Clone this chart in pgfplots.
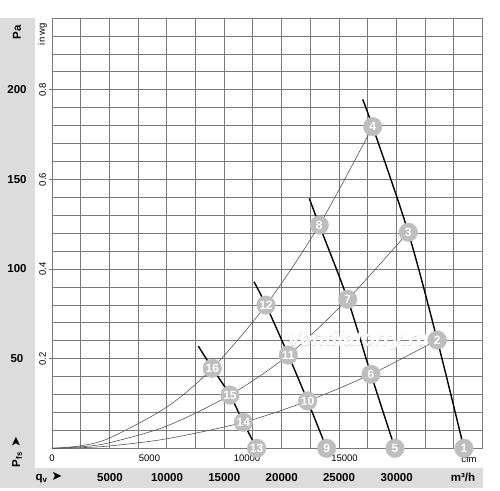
\documentclass[border=0pt]{standalone}
\usepackage{fontspec}
\setmainfont{Liberation Sans}
\newfontfamily\symfont{DejaVu Sans}
\usepackage{pgfplots}
\pgfplotsset{compat=1.18}

\definecolor{band}{HTML}{DCDCDC}
\definecolor{gridc}{HTML}{7A7A7A}
\definecolor{circ}{HTML}{BEBEBE}
\definecolor{sysc}{HTML}{555555}

\begin{document}
\begin{tikzpicture}
% page in reference pixels: x right, y down, axis corner at (52,448.3)
\begin{scope}[x=1pt,y=-1pt,shift={(-52pt,448.3pt)}]
  \useasboundingbox (0,0) rectangle (500,490);
  \fill[band] (0,18) rectangle (35,487.5);
  \fill[band] (0,467.5) rectangle (482.7,487.5);
  % cfm scale
  \begin{scope}[font=\fontsize{9.5}{10}\selectfont]
    \node at (52,457.8) {0};
    \node at (149.5,457.8) {5000};
    \node at (247,457.8) {10000};
    \node at (344.5,457.8) {15000};
    \node at (469,459) {cfm};
  \end{scope}
\end{scope}

\begin{axis}[
    scale only axis,
    width=430.3pt, height=430.3pt,
    xmin=0, xmax=37500, ymin=0, ymax=240,
    xtick={0,2500,...,37500},
    ytick={0,10,...,240},
    scaled x ticks=false, scaled y ticks=false,
    xticklabel=\empty, yticklabel=\empty,
    major tick length=0pt,
    grid=major,
    major grid style={draw=gridc, line width=0.7pt},
    axis line style={draw=gridc, line width=0.7pt},
    clip=false,
  ]
  % system curves
  \addplot[sysc, line width=0.6pt, smooth] coordinates {
    (0,0) (2500,1.4) (5000,5.7) (10000,23) (13970,44.6) (18648,79.9) (23293,124.5) (27945,179.4)};
  \addplot[sysc, line width=0.6pt, smooth] coordinates {
    (0,0) (2500,0.8) (5000,3.1) (10000,12.4) (15511,29.7) (20593,52) (25766,83.1) (31047,120.5)};
  \addplot[sysc, line width=0.6pt, smooth] coordinates {
    (0,0) (2500,0.35) (5000,1.3) (10000,5.3) (16671,14.5) (22279,26.4) (27797,41.3) (33576,60.4)};
  % fan curves
  \addplot[black, line width=1.4pt, smooth] coordinates {
    (27073,194.6) (27945,179.4) (31047,120.5) (33576,60.4) (35901,0)};
  \addplot[black, line width=1.4pt, smooth] coordinates {
    (22421,139.4) (23293,124.5) (25766,83.1) (27797,41.3) (29890,0)};
  \addplot[black, line width=1.4pt, smooth] coordinates {
    (17602,92.9) (18648,79.9) (20593,52.0) (22279,26.4) (23934,0)};
  \addplot[black, line width=1.4pt, smooth] coordinates {
    (12751,57.0) (13970,44.6) (15511,29.7) (16671,14.5) (17834,0)};
  % watermark
  \node[font=\itshape\bfseries\fontsize{21}{21}\selectfont, text=black!15]
    at (axis cs:26680,59.6) {Ventilatorry.ru};
  \node[font=\itshape\bfseries\fontsize{21}{21}\selectfont, text=white]
    at (axis cs:26665,60.2) {Ventilatorry.ru};
  % operating points
  \addplot[color=circ, only marks, mark=*, mark size=9.3pt,
      mark options={fill=circ, draw=circ},
      point meta=explicit symbolic,
      nodes near coords,
      every node near coord/.append style={anchor=center, text=white,
        font=\bfseries\fontsize{12}{12}\selectfont}]
    table[meta=lab] {
      x y lab
      35901 0 1
      33576 60.4 2
      31047 120.5 3
      27945 179.4 4
      29890 0 5
      27797 41.3 6
      25766 83.1 7
      23293 124.5 8
      23934 0 9
      22279 26.4 10
      20593 52.0 11
      18648 79.9 12
      17834 0 13
      16671 14.5 14
      15511 29.7 15
      13970 44.6 16
    };
\end{axis}

\begin{scope}[x=1pt,y=-1pt,shift={(-52pt,448.3pt)}]
  % Pa scale
  \begin{scope}[font=\bfseries\fontsize{11.5}{12}\selectfont]
    \node[rotate=90] at (17,32) {Pa};
    \node at (17,89.7) {200};
    \node at (17,179.3) {150};
    \node at (17,268.8) {100};
    \node at (17,358.5) {50};
    \node[rotate=90] at (17,452) {P\textsubscript{fs}\,\,{\symfont\fontsize{13}{13}\selectfont ➤}};
    \node at (49,478) {q\textsubscript{v}\,\,{\symfont\fontsize{13}{13}\selectfont ➤}};
    \node at (110,477.7) {5000};
    \node at (167,477.7) {10000};
    \node at (224.3,477.7) {15000};
    \node at (281.7,477.7) {20000};
    \node at (339,477.7) {25000};
    \node at (396.7,477.7) {30000};
    \node at (463,477.7) {m³/h};
  \end{scope}
  % in wg scale
  \begin{scope}[font=\fontsize{9.5}{10}\selectfont]
    \node[rotate=90] at (42.5,34) {in wg};
    \node[rotate=90] at (42.5,89.7) {0.8};
    \node[rotate=90] at (42.5,179.5) {0.6};
    \node[rotate=90] at (42.5,269) {0.4};
    \node[rotate=90] at (42.5,358.7) {0.2};
  \end{scope}
  \foreach \yy in {89.7,179.5,269,358.7}
    \draw[gridc, line width=0.6pt] (48.5,\yy) -- (52,\yy);
\end{scope}
\end{tikzpicture}
\end{document}
